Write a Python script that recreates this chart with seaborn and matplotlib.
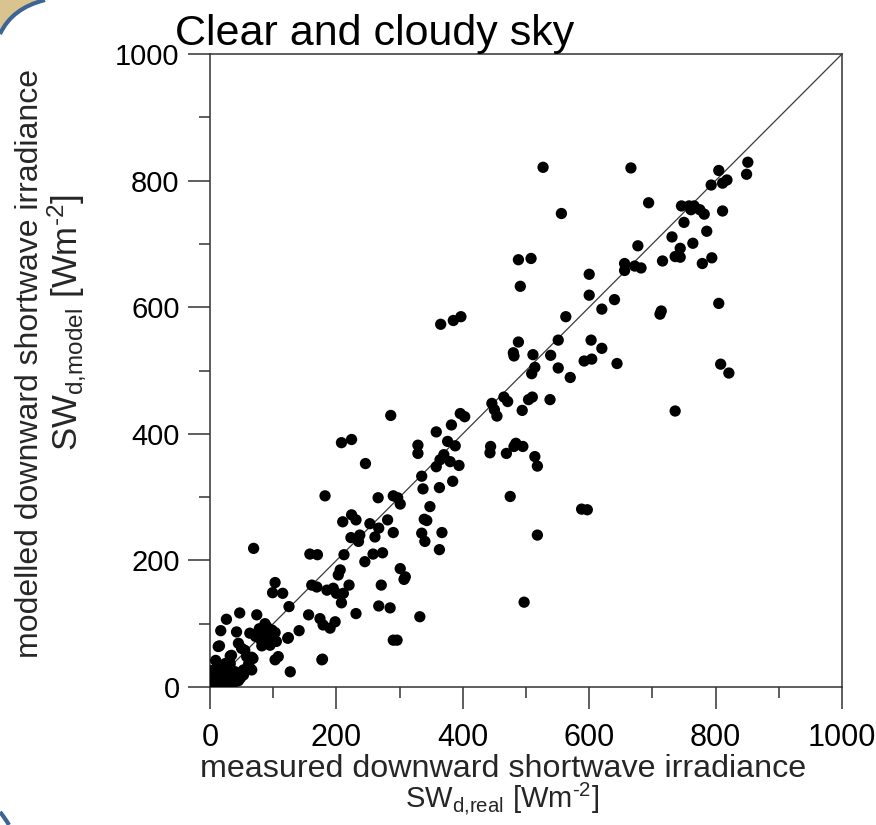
import numpy as np
import pandas as pd
import matplotlib
matplotlib.use("Agg")
import matplotlib.pyplot as plt
from matplotlib import font_manager
from matplotlib.path import Path
from matplotlib.patches import PathPatch
import seaborn as sns

# ---------------- data ----------------
x_measured = [
    666, 694, 677, 656, 656, 672, 682, 640, 620, 620, 644, 714, 712, 716, 731, 736, 744, 744,
    750, 746, 758, 766, 775, 782, 761, 764, 786, 779, 794, 805, 808, 821, 793, 805, 811, 818,
    811, 851, 849, 736,
    491, 600, 563, 365, 385, 397, 488, 551, 603, 480, 481, 511, 539, 592, 604, 514, 509, 551,
    570, 465, 471, 446, 450, 454, 504, 510, 494, 538, 396, 403, 382, 358, 376, 388, 329, 329,
    370, 364, 358, 380, 394, 444, 443, 469, 484, 481, 495, 514, 518, 335, 337, 363, 384, 348,
    339, 343, 335, 340, 367, 363, 475, 518, 588, 597, 497, 332, 527, 556, 488, 508, 600,
    286, 208, 224, 246, 182, 266, 290, 297, 301, 224, 231, 210, 253, 267, 281, 290, 223, 237,
    235, 261, 212, 158, 170, 69, 245, 258, 273, 301, 309, 206,
    103, 99, 115, 125, 161, 169, 185, 195, 200, 211, 208, 203, 220, 271, 307, 231, 267, 285,
    290, 296, 178, 156, 174, 179, 190, 198, 141, 123, 127, 103, 108, 74, 47, 26, 17, 15, 42,
    63, 32, 45, 50, 66, 63, 53, 32, 18, 5, 3, 124, 13, 55, 34, 58, 68, 177,
    72, 78, 80, 85, 88, 90, 93, 96, 98, 100, 103, 82, 95, 76, 87, 105,
    0, 5, 16, 24, 29, 11, 21, 32, 8, 14, 35, 27, 11, 24, 32, 40, 55, 66, 53, 45,
    4, 19, 37, 48, 61, 9, 26,
]
y_modelled = [
    820, 765, 697, 669, 658, 665, 662, 612, 597, 535, 511, 594, 589, 673, 711, 680, 693, 679,
    734, 760, 760, 760, 754, 747, 754, 701, 720, 669, 678, 606, 510, 496, 793, 816, 796, 801,
    752, 829, 810, 436,
    633, 619, 585, 573, 579, 585, 545, 548, 548, 528, 523, 525, 524, 515, 518, 505, 495, 504,
    489, 458, 451, 448, 438, 428, 454, 458, 437, 454, 432, 427, 414, 403, 388, 381, 382, 369,
    367, 359, 348, 356, 350, 380, 370, 369, 385, 380, 380, 364, 349, 333, 313, 315, 325, 285,
    265, 263, 243, 230, 244, 217, 301, 240, 281, 280, 134, 111, 821, 748, 675, 677, 652,
    429, 386, 391, 353, 302, 299, 302, 299, 289, 272, 264, 261, 258, 251, 264, 244, 236, 240,
    230, 237, 209, 210, 209, 219, 198, 210, 212, 187, 174, 185,
    165, 149, 148, 127, 161, 158, 153, 156, 148, 148, 133, 177, 161, 161, 170, 116, 128, 125,
    74, 74, 44, 114, 108, 98, 93, 103, 89, 77, 24, 43, 48, 114, 117, 107, 89, 65, 87,
    85, 49, 69, 61, 47, 30, 27, 37, 32, 19, 3, 78, 64, 58, 50, 48, 45, 43,
    80, 92, 75, 88, 70, 95, 82, 75, 90, 80, 86, 65, 66, 85, 100, 72,
    3, 11, 13, 6, 11, 19, 24, 3, 8, 2, 15, 20, 32, 37, 30, 24, 24, 27, 19, 10,
    26, 4, 6, 14, 36, 42, 16,
]
one_to_one = [0, 1000]
tick_values = [0, 200, 400, 600, 800, 1000]
minor_values = [100, 300, 500, 700, 900]

title_text = "Clear and cloudy sky"
xlabel_line1 = "measured downward shortwave irradiance"
xlabel_line2 = r"SW$_{\mathrm{d{,}real}}$ [Wm$^{\text{-}\mathrm{2}}$]"
ylabel_line1 = "modelled downward shortwave irradiance"
ylabel_line2 = r"SW$_{\mathrm{d{,}model}}$ [Wm$^{\text{-}\mathrm{2}}$]"

df = pd.DataFrame({"measured": x_measured, "modelled": y_modelled})

# ---------------- style ----------------
sns.set_theme(style="white")
plt.rcParams["font.family"] = ["Liberation Sans", "DejaVu Sans"]
plt.rcParams["mathtext.fontset"] = "custom"
plt.rcParams["mathtext.rm"] = "Liberation Sans"
plt.rcParams["mathtext.it"] = "Liberation Sans:italic"
plt.rcParams["mathtext.bf"] = "Liberation Sans:bold"

names = {f.name for f in font_manager.fontManager.ttflist}
narrow = "Liberation Sans Narrow" if "Liberation Sans Narrow" in names else "Liberation Sans"

W, H = 876, 825
fig = plt.figure(figsize=(W / 100, H / 100), dpi=100)
fig.patch.set_facecolor("white")

# slide decoration in the left corners
deco = fig.add_axes([0, 0, 1, 1], zorder=-5)
deco.set_xlim(0, W)
deco.set_ylim(H, 0)
deco.axis("off")
corner = Path([(0, 0), (45, 0), (12, 8), (0, 34), (0, 0)],
              [Path.MOVETO, Path.LINETO, Path.CURVE3, Path.CURVE3, Path.CLOSEPOLY])
deco.add_patch(PathPatch(corner, facecolor="#d9c38e", edgecolor="none"))
arc = Path([(45, 0), (12, 8), (0, 34)], [Path.MOVETO, Path.CURVE3, Path.CURVE3])
deco.add_patch(PathPatch(arc, facecolor="none", edgecolor="#3d6494", lw=3))
arc2 = Path([(0, 812), (5, 818), (9, 825)], [Path.MOVETO, Path.CURVE3, Path.CURVE3])
deco.add_patch(PathPatch(arc2, facecolor="none", edgecolor="#3d6494", lw=3))

ax = fig.add_axes([210 / W, 1 - 687 / H, 632 / W, 633 / H])
ax.plot(one_to_one, one_to_one, color="#3a3a3a", lw=0.9, zorder=1)
sns.scatterplot(data=df, x="measured", y="modelled", ax=ax, color="black",
                s=66, linewidth=0, edgecolor="none", zorder=3, legend=False)

ax.set_xlim(0, 1000)
ax.set_ylim(0, 1000)
ax.set_xticks(tick_values)
ax.set_yticks(tick_values)
ax.set_xticks(minor_values, minor=True)
ax.set_yticks(minor_values, minor=True)
ax.set_xticklabels([str(v) for v in tick_values], fontsize=22, family=narrow)
ax.set_yticklabels([str(v) for v in tick_values], fontsize=21)
ax.tick_params(axis="both", which="major", direction="out", length=15.8, width=1.1,
               color="#333333", labelcolor="black")
ax.tick_params(axis="both", which="minor", direction="out", length=7.9, width=1.1,
               color="#333333")
ax.tick_params(axis="x", which="major", pad=10)
ax.tick_params(axis="y", which="major", pad=6)
ax.tick_params(top=False, right=False, bottom=True, left=True, which="both")
for side in ["left", "right", "top", "bottom"]:
    ax.spines[side].set_visible(True)
    ax.spines[side].set_color("#333333")
    ax.spines[side].set_linewidth(1.1)
ax.set_xlabel("")
ax.set_ylabel("")
ax.grid(False)

# texts
fig.text(175 / W, 1 - 45 / H, title_text, fontsize=31, ha="left", va="baseline", color="black")
fig.text(503 / W, 1 - 777 / H, xlabel_line1, fontsize=23.2, ha="center", va="baseline")
fig.text(502 / W, 1 - 808 / H, xlabel_line2, fontsize=21, ha="center", va="baseline")
fig.text(30 / W, 1 - 364 / H, ylabel_line1, fontsize=23, rotation=90, ha="center", va="center")
fig.text(67 / W, 1 - 322 / H, ylabel_line2, fontsize=25, rotation=90, ha="center", va="center")

fig.savefig("out.png", dpi=100)
